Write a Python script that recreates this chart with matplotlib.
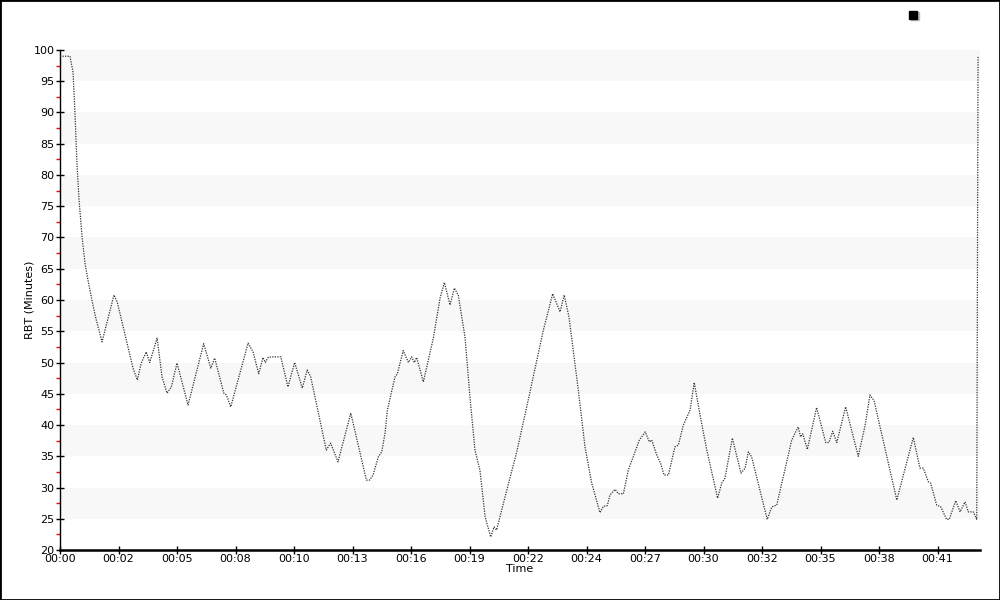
import matplotlib
matplotlib.use("Agg")
import matplotlib.pyplot as plt
from matplotlib.lines import Line2D
from matplotlib.patches import Rectangle

# time in minutes, RBT in minutes
t = [0, 0.46, 0.60, 0.69, 0.78, 0.88, 1.02, 1.15, 1.29, 1.52, 1.66, 1.94,
     2.49, 2.64, 3.37, 3.57, 3.75, 3.98, 4.14, 4.48, 4.71, 4.94, 5.14, 5.40,
     5.91, 6.63, 6.96, 7.14, 7.56, 7.68, 7.88, 8.68, 8.91, 9.17, 9.37, 9.48,
     9.60, 9.75, 10.19, 10.52, 10.83, 11.18, 11.41, 11.57, 12.06, 12.29,
     12.49, 12.83, 13.42, 14.14, 14.29, 14.45, 14.69, 14.85, 15.00, 15.11,
     15.46, 15.57, 15.84, 16.08, 16.23, 16.35, 16.46, 16.77, 17.23, 17.54,
     17.74, 18.00, 18.20, 18.38, 18.69, 18.92, 19.15, 19.38, 19.62, 19.88,
     20.03, 20.15, 20.54, 21.08, 21.61, 22.31, 22.74, 23.08, 23.27, 23.49,
     23.92, 24.23, 24.54, 24.92, 25.08, 25.26, 25.38, 25.62, 25.77, 26.00,
     26.23, 26.54, 26.74, 27.01, 27.20, 27.31, 27.54, 27.72, 27.88, 28.08,
     28.38, 28.54, 28.77, 29.08, 29.27, 29.54, 29.85, 30.35, 30.54, 30.69,
     31.03, 31.43, 31.62, 31.77, 31.92, 32.64, 32.85, 33.08, 33.77, 34.07,
     34.18, 34.28, 34.49, 34.92, 35.34, 35.49, 35.66, 35.85, 36.26, 36.84,
     37.15, 37.38, 37.57, 38.62, 39.38, 39.69, 39.84, 40.08, 40.18, 40.46,
     40.65, 40.92, 41.04, 41.34, 41.54, 41.77, 41.92, 42.15, 42.31, 42.37]
rbt = [99, 99, 96.5, 90, 82, 76, 70, 66, 63.2, 59.2, 57, 53.3,
       60.8, 59.7, 49.1, 47.2, 49.9, 51.7, 50, 53.9, 47.7, 45.1, 46.1, 49.9,
       43.2, 53, 49.1, 50.7, 45.1, 44.8, 42.9, 53.1, 51.7, 48.2, 50.8, 50,
       50.8, 50.9, 50.9, 46.1, 50, 45.9, 48.8, 47.7, 39.7, 36,
       37.1, 34.1, 41.9, 31.2, 31.2, 32, 34.9, 35.7, 38.7, 42.4,
       47.7, 48.2, 51.9, 50, 50.9, 50, 50.8, 46.9, 53.9, 60.3,
       62.8, 59.2, 61.9, 60.8, 54.1, 44.5, 36, 32.8, 25.3, 22.1,
       23.7, 23.2, 28.5, 35.7, 44, 55.2, 61, 58.1, 60.8, 57.3,
       45.6, 36.5, 30.7, 26, 27, 27.1, 28.8, 29.7, 29, 29,
       32.8, 35.7, 37.6, 38.9, 37.3, 37.6, 35.2, 33.9, 32, 32,
       36.5, 36.8, 40, 42.4, 46.8, 41.6, 36, 28.3, 30.7, 31.5,
       37.9, 32.3, 33.1, 35.7, 34.9, 24.9, 26.9, 27.2, 37.6, 39.7,
       38.1, 38.6, 36.1, 42.8, 37.2, 37.2, 39, 37.2, 42.9, 35,
       39.8, 44.8, 43.9, 28, 38, 33.1, 33.1, 30.9, 30.7, 27.2,
       26.9, 24.9, 24.9, 27.9, 26.1, 27.7, 26.1, 26.1, 24.9, 99]

tick_labels = ["00:00", "00:02", "00:05", "00:08", "00:10", "00:13", "00:16",
               "00:19", "00:22", "00:24", "00:27", "00:30", "00:32", "00:35",
               "00:38", "00:41"]
tick_step = 2.7  # minutes between x ticks

plt.rcParams['font.family'] = ['DejaVu Sans']

fig = plt.figure(figsize=(10, 6), dpi=100)
ax = fig.add_axes([0.06, 0.0833, 0.92, 0.8334])

# alternating bands
for lo in range(25, 100, 10):
    ax.axhspan(lo, lo + 5, color='#f8f8f8', lw=0, zorder=0)

ax.plot(t, rbt, color='#333333', lw=0.9, linestyle=(0, (1, 1)), zorder=3)

ax.set_xlim(0, 42.46)
ax.set_ylim(20, 100)

ax.set_yticks(range(20, 101, 5))
ax.set_yticks([v + 2.5 for v in range(20, 100, 5)], minor=True)
ax.tick_params(axis='y', which='major', direction='inout', length=6,
               width=1, colors='black', labelsize=8, pad=1)
ax.tick_params(axis='y', which='minor', direction='out', length=3,
               width=1, color='red')

ax.set_xticks([k * tick_step for k in range(len(tick_labels))])
ax.set_xticklabels(tick_labels)
ax.tick_params(axis='x', direction='inout', length=6, width=1,
               colors='black', labelsize=8, pad=0)

for s in ['top', 'right']:
    ax.spines[s].set_visible(False)
ax.spines['left'].set_linewidth(1)
ax.spines['bottom'].set_linewidth(1.8)

ax.set_xlabel("Time", fontsize=8, labelpad=0)
ax.set_ylabel("RBT (Minutes)", fontsize=8, labelpad=-1)

# legend marker with shadow, top right
fig.add_artist(Line2D([0.9145], [0.9735], marker='s', markersize=6,
                      color='#bbbbbb', transform=fig.transFigure, lw=0))
fig.add_artist(Line2D([0.913], [0.975], marker='s', markersize=6,
                      color='black', transform=fig.transFigure, lw=0))

# outer frame
fig.add_artist(Rectangle((0, 0), 1, 1, transform=fig.transFigure,
                         fill=False, edgecolor='black', lw=2))

fig.savefig("out.png", dpi=100)
